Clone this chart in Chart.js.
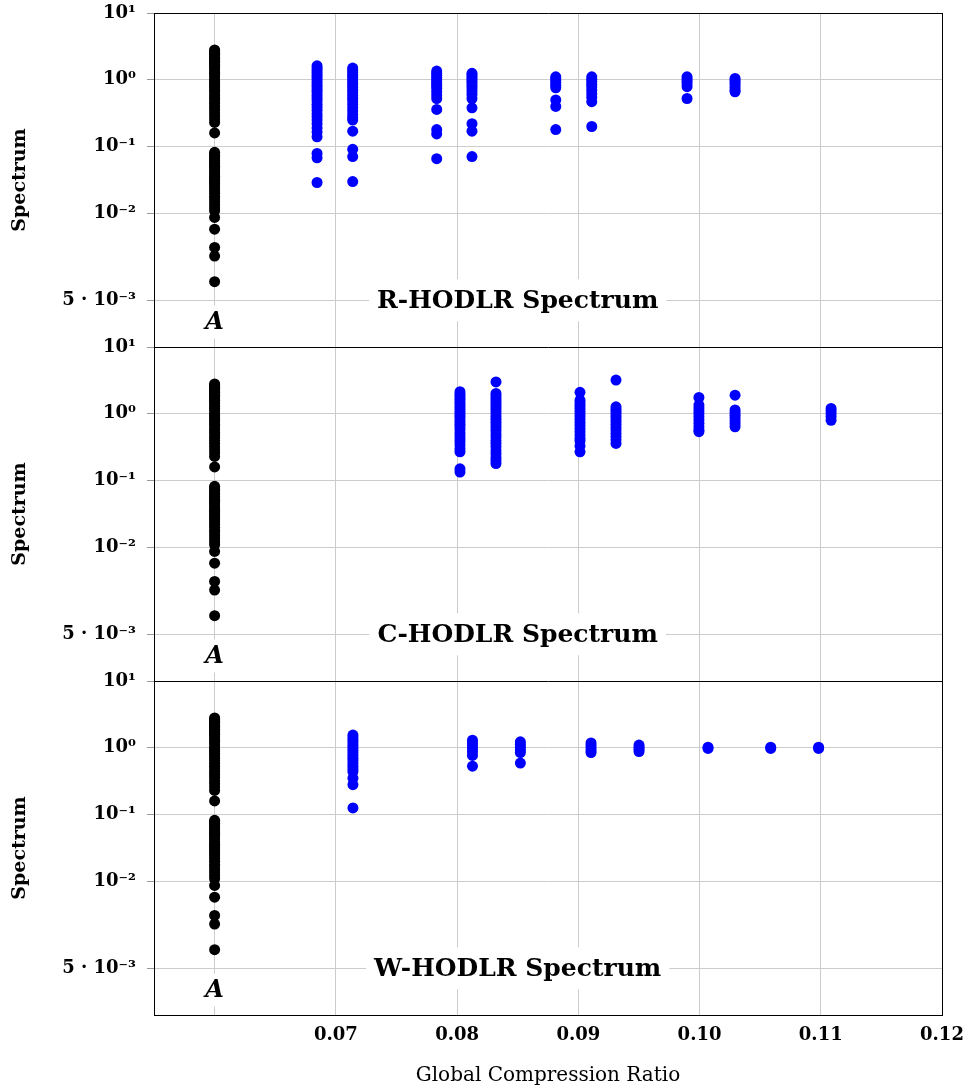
<!DOCTYPE html>
<html><head><meta charset="utf-8">
<script src="https://cdn.jsdelivr.net/npm/chart.js@4.4.0/dist/chart.umd.min.js"></script>
<style>html,body{margin:0;padding:0;background:#fff;}</style>
</head><body>
<canvas id="c" width="970" height="1090" style="display:block"></canvas>
<script>
// ---------- data ----------
const panelNames = ['R-HODLR Spectrum', 'C-HODLR Spectrum', 'W-HODLR Spectrum'];
const xTicks = [0.06, 0.07, 0.08, 0.09, 0.10, 0.11, 0.12];
const xTickLabels = ['', '0.07', '0.08', '0.09', '0.10', '0.11', '0.12'];
const yTicks = [10, 1, 0.1, 0.01, 0.0005];
const yTickLabels = ['10¹', '10⁰', '10⁻¹', '10⁻²', '5 · 10⁻³'];

const matrixX = 0.06;
const matrixSpectrum = [2.8, 2.7, 2.6, 2.5, 2.4, 2.3, 2.2, 2.1, 2.0, 1.9, 1.8, 1.7, 1.6, 1.5, 1.4, 1.3, 1.2, 1.1, 1.0,
  0.94, 0.88, 0.82, 0.76, 0.7, 0.64, 0.58, 0.53, 0.48, 0.44, 0.4, 0.36, 0.32, 0.29, 0.26, 0.23, 0.16,
  0.082, 0.078, 0.074, 0.07, 0.066, 0.062, 0.058, 0.054, 0.051, 0.048, 0.045, 0.042, 0.039, 0.036, 0.034,
  0.032, 0.03, 0.028, 0.026, 0.024, 0.022, 0.02, 0.018, 0.0165, 0.015, 0.0135, 0.0122, 0.011,
  0.0087, 0.0058, 0.0031, 0.0023, 0.00095];

const rX = [0.06845, 0.07139, 0.07832, 0.08123, 0.08814, 0.09111, 0.09897, 0.10293];
const rY = [
  [1.62, 1.5, 1.38, 1.27, 1.17, 1.08, 0.99, 0.91, 0.83, 0.76, 0.7, 0.64, 0.58, 0.53, 0.48, 0.43, 0.39, 0.35, 0.31, 0.28, 0.25, 0.22, 0.19, 0.165, 0.14, 0.079, 0.068, 0.029],
  [1.5, 1.38, 1.27, 1.17, 1.08, 0.99, 0.91, 0.84, 0.77, 0.7, 0.64, 0.58, 0.53, 0.48, 0.43, 0.38, 0.34, 0.3, 0.27, 0.25, 0.17, 0.091, 0.071, 0.030],
  [1.35, 1.25, 1.16, 1.08, 1.0, 0.93, 0.86, 0.8, 0.74, 0.66, 0.59, 0.525, 0.36, 0.18, 0.155, 0.066],
  [1.25, 1.17, 1.09, 1.01, 0.94, 0.87, 0.8, 0.73, 0.66, 0.6, 0.525, 0.38, 0.22, 0.17, 0.071],
  [1.11, 1.04, 0.97, 0.9, 0.83, 0.76, 0.5, 0.4, 0.18],
  [1.11, 1.02, 0.94, 0.86, 0.78, 0.7, 0.62, 0.55, 0.47, 0.2],
  [1.11, 1.03, 0.95, 0.87, 0.79, 0.525],
  [1.05, 0.98, 0.91, 0.84, 0.77, 0.7, 0.66]
];

const cX = [0.08024, 0.08321, 0.09014, 0.09311, 0.09995, 0.10293, 0.11085];
const cY = [
  [2.14, 1.95, 1.8, 1.65, 1.52, 1.4, 1.29, 1.18, 1.08, 1.0, 0.92, 0.84, 0.77, 0.7, 0.64, 0.58, 0.52, 0.47, 0.42, 0.38, 0.34, 0.3, 0.27, 0.15, 0.134],
  [3.0, 2.02, 1.85, 1.7, 1.56, 1.43, 1.31, 1.2, 1.1, 1.0, 0.91, 0.83, 0.75, 0.68, 0.62, 0.56, 0.5, 0.45, 0.4, 0.36, 0.32, 0.28, 0.25, 0.22, 0.2, 0.18],
  [2.1, 1.6, 1.45, 1.32, 1.2, 1.09, 0.99, 0.9, 0.82, 0.74, 0.67, 0.6, 0.54, 0.48, 0.43, 0.39, 0.33, 0.27],
  [3.2, 1.27, 1.17, 1.08, 1.0, 0.92, 0.84, 0.77, 0.7, 0.63, 0.57, 0.51, 0.46, 0.41, 0.36],
  [1.76, 1.35, 1.22, 1.1, 1.0, 0.9, 0.81, 0.72, 0.64, 0.57, 0.54],
  [1.9, 1.14, 1.04, 0.95, 0.87, 0.79, 0.71, 0.64],
  [1.2, 1.1, 1.0, 0.9, 0.8]
];

const wX = [0.07141, 0.08127, 0.08522, 0.09105, 0.09501, 0.10070, 0.10587, 0.10982];
const wY = [
  [1.55, 1.42, 1.3, 1.19, 1.09, 1.0, 0.92, 0.84, 0.77, 0.7, 0.64, 0.58, 0.53, 0.48, 0.44, 0.35, 0.28, 0.126],
  [1.3, 1.18, 1.07, 0.97, 0.87, 0.77, 0.53],
  [1.23, 1.12, 1.02, 0.93, 0.85, 0.59],
  [1.18, 1.08, 0.99, 0.91, 0.85],
  [1.1, 1.02, 0.95, 0.88],
  [1.02, 0.98],
  [1.02, 0.98],
  [1.02, 0.98]
];

// ---------- chart ----------
const FONT = '"DejaVu Serif", serif';
const panels = [[rX, rY], [cX, cY], [wX, wY]];
const axisIds = ['y1', 'y2', 'y3'];

const datasets = [];
panels.forEach(([xs, ys], p) => {
  datasets.push({
    data: matrixSpectrum.map(v => ({x: matrixX, y: v})),
    yAxisID: axisIds[p], backgroundColor: '#000', borderWidth: 0, pointRadius: 5.5
  });
  const pts = [];
  xs.forEach((x, i) => ys[i].forEach(v => pts.push({x: x, y: v})));
  datasets.push({
    data: pts, yAxisID: axisIds[p], backgroundColor: '#0000ff', borderWidth: 0, pointRadius: 5.5
  });
});

function yScale(p) {
  return {
    type: 'logarithmic', position: 'left', stack: 'panels', stackWeight: 1, weight: 3 - p,
    min: 0.0001, max: 10,
    afterBuildTicks: s => { s.ticks = yTicks.map(v => ({value: v})); },
    afterFit: s => { s.width = 154; s.paddingTop = 0; s.paddingBottom = 0; },
    ticks: {
      callback: v => yTickLabels[yTicks.indexOf(v)],
      font: {family: FONT, weight: 'bold', size: 18}, color: '#000', padding: 11, autoSkip: false
    },
    grid: {color: '#cccccc', lineWidth: 1, tickLength: 7, tickColor: '#999'},
    border: {display: true, color: '#000'},
    title: {display: true, text: 'Spectrum', font: {family: FONT, weight: 'bold', size: 19}, color: '#000', padding: {top: 9, bottom: 0}}
  };
}

const overlay = {
  id: 'overlay',
  beforeDatasetsDraw(chart) {
    const ctx = chart.ctx, xs = chart.scales.x;
    axisIds.forEach((id, i) => {
      const ys = chart.scales[id];
      ctx.save();
      ctx.font = 'bold 25px ' + FONT;
      const w = ctx.measureText(panelNames[i]).width;
      const cx = xs.getPixelForValue(0.085), cy = ys.getPixelForValue(0.0005);
      ctx.fillStyle = '#fff';
      ctx.fillRect(cx - w / 2 - 8, cy - 21, w + 16, 42);
      ctx.fillStyle = '#000'; ctx.textAlign = 'center'; ctx.textBaseline = 'middle';
      ctx.fillText(panelNames[i], cx, cy + 1);
      const ax = xs.getPixelForValue(matrixX), ay = ys.getPixelForValue(0.00024);
      ctx.fillStyle = '#fff';
      ctx.fillRect(ax - 13, ay - 16, 26, 33);
      ctx.fillStyle = '#000';
      ctx.font = 'italic bold 24px ' + FONT;
      ctx.fillText('A', ax, ay + 1);
      ctx.restore();
    });
  },
  afterDatasetsDraw(chart) {
    const ctx = chart.ctx, a = chart.chartArea;
    ctx.save();
    ctx.strokeStyle = '#000'; ctx.lineWidth = 1;
    ctx.beginPath();
    const r = Math.round(a.right) + 0.5, b = Math.round(a.bottom) + 0.5;
    ctx.moveTo(r, a.top); ctx.lineTo(r, a.bottom);
    ctx.moveTo(a.left, b); ctx.lineTo(a.right, b);
    axisIds.forEach(id => {
      const t = Math.round(chart.scales[id].top) + 0.5;
      ctx.moveTo(a.left, t); ctx.lineTo(a.right + 1, t);
    });
    ctx.stroke();
    ctx.restore();
  }
};

new Chart(document.getElementById('c'), {
  type: 'scatter',
  data: {datasets},
  plugins: [overlay],
  options: {
    responsive: false, animation: false, devicePixelRatio: 1,
    layout: {padding: {top: 13, right: 28, left: 0, bottom: 0}},
    plugins: {legend: {display: false}, tooltip: {enabled: false}},
    scales: {
      x: {
        type: 'linear', position: 'bottom', min: 0.055, max: 0.12,
        afterBuildTicks: s => { s.ticks = xTicks.map(v => ({value: v})); },
        afterFit: s => { s.height = 75; s.paddingLeft = 0; s.paddingRight = 0; },
        ticks: {
          callback: (v) => xTickLabels[xTicks.indexOf(v)],
          font: {family: FONT, weight: 'bold', size: 18}, color: '#000', padding: 10, maxRotation: 0, autoSkip: false
        },
        grid: {color: '#cccccc', lineWidth: 1, drawTicks: false},
        border: {display: true, color: '#000'},
        title: {display: true, text: 'Global Compression Ratio', font: {family: FONT, size: 20}, color: '#000', padding: {top: 0, bottom: 2}}
      },
      y1: yScale(0), y2: yScale(1), y3: yScale(2)
    }
  }
});
</script>
</body></html>
